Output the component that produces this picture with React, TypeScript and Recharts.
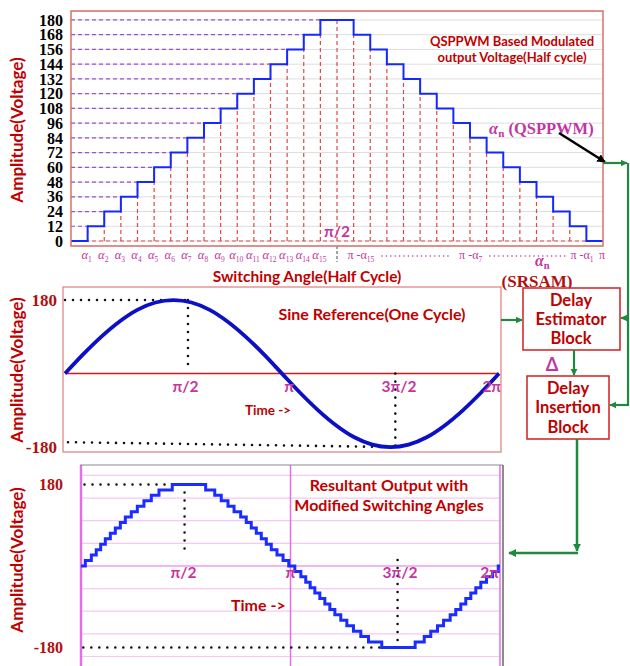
import React from "react";
import { LineChart, Line, XAxis, YAxis, CartesianGrid, ReferenceLine, ReferenceDot } from "recharts";

const SANS = "Lato, 'Open Sans', 'DejaVu Sans', sans-serif";
const SERIF = "'Liberation Serif', 'DejaVu Serif', serif";
const RED = "#c00000";
const DARKRED = "#b01010";
const MAGENTA = "#c4369e";
const GREEN = "#1e8a3f";

// top panel: QSPPWM half cycle, x = switching slot (pi at slot 32)
const slotIndex = [0, 1, 2, 3, 4, 5, 6, 7, 8, 9, 10, 11, 12, 13, 14, 15, 16, 17, 18, 19, 20, 21, 22, 23, 24, 25, 26, 27, 28, 29, 30, 31, 32];
const qsppwmLevels = [0, 12, 24, 36, 48, 60, 72, 84, 96, 108, 120, 132, 144, 156, 168, 180, 180, 168, 156, 144, 132, 120, 108, 96, 84, 72, 60, 48, 36, 24, 12, 0, 0];
const levelTicks = [0, 12, 24, 36, 48, 60, 72, 84, 96, 108, 120, 132, 144, 156, 168, 180];
const slotTickPos = [1, 2, 3, 4, 5, 6, 7, 8, 9, 10, 11, 12, 13, 14, 15, 17.5, 24.1, 30.8, 32];
const slotTickMain = ["α", "α", "α", "α", "α", "α", "α", "α", "α", "α", "α", "α", "α", "α", "α", "π -α", "π -α", "π -α", "π"];
const slotTickSub = ["1", "2", "3", "4", "5", "6", "7", "8", "9", "10", "11", "12", "13", "14", "15", "15", "7", "1", ""];

// middle panel: sine reference, degrees
const sineDeg = [0, 15, 30, 45, 60, 75, 90, 105, 120, 135, 150, 165, 180, 195, 210, 225, 240, 255, 270, 285, 300, 315, 330, 345, 360];
const sineRef = [0, 47, 90, 127, 156, 174, 180, 174, 156, 127, 90, 47, 0, -47, -90, -127, -156, -174, -180, -174, -156, -127, -90, -47, 0];
const piText = ["π/2", "π", "3π/2", "2π"];
const piPosMid = [100, 186, 277, 354];

// bottom panel: resultant staircase with modified switching angles (degrees, positive half)
const riseDeg = [3.7, 8.9, 13.1, 16.9, 20.9, 25.2, 29.5, 33.8, 38.1, 43.2, 48.4, 54.1, 60.4, 67.0, 78.4];
const fallDeg = [107.1, 114.9, 120.5, 126.3, 131.5, 137.2, 142.0, 146.3, 150.6, 154.9, 159.2, 163.5, 168.4, 173.6, 178.5];
const stepUp = [12, 24, 36, 48, 60, 72, 84, 96, 108, 120, 132, 144, 156, 168, 180];
const stepDown = [168, 156, 144, 132, 120, 108, 96, 84, 72, 60, 48, 36, 24, 12, 0];
const piPosOut = [88, 180, 274, 351];
const outGrid = [-200, -150, -100, -50, 50, 100, 150, 200];
const outVert = [0, 180, 360];

const topData = slotIndex.map((s, i) => ({ s, v: qsppwmLevels[i] }));
const sineData = sineDeg.map((d, i) => ({ d, v: sineRef[i] }));

const halfWave = [
  ...riseDeg.map((d, i) => ({ d, v: stepUp[i] })),
  ...fallDeg.map((d, i) => ({ d, v: stepDown[i] })),
];
const outData = [
  { d: 0, v: 0 },
  ...halfWave,
  ...halfWave.map((p) => ({ d: p.d + 180, v: p.v === 0 ? 0 : -p.v })),
  { d: 360, v: 0 },
];

function SlotTick({ x, y, payload }: any) {
  const i = slotTickPos.indexOf(payload.value);
  if (i < 0) return null;
  const isPi = slotTickMain[i].startsWith("π");
  return (
    <text x={x - 1} y={y + 5} textAnchor="middle" fontFamily={SERIF} fontSize={isPi ? 12 : 12.5} fill={MAGENTA}>
      <tspan fontStyle={isPi ? "normal" : "italic"}>{slotTickMain[i]}</tspan>
      {slotTickSub[i] && (
        <tspan fontSize={7.5} dy={3}>
          {slotTickSub[i]}
        </tspan>
      )}
    </text>
  );
}

function piLabel(text: string, dy: number) {
  return (p: any) => {
    const vb = p.viewBox || {};
    const cx = (vb.x ?? 0) + (vb.width ?? 0) / 2;
    const cy = (vb.y ?? 0) + (vb.height ?? 0) / 2;
    return (
      <text x={cx} y={cy + dy} textAnchor="middle" fontFamily={SANS} fontWeight={700} fontSize={15.5} fill={MAGENTA}>
        {text}
      </text>
    );
  };
}

const dotted = { stroke: "#111", strokeWidth: 2.6, strokeDasharray: "0 8", strokeLinecap: "round" as const };

function TopChart() {
  return (
    <LineChart width={630} height={290} data={topData} margin={{ top: 11, right: 27, bottom: 0, left: 0 }}>
      <CartesianGrid vertical={false} stroke="#dedede" />
      <XAxis dataKey="s" type="number" domain={[0, 32]} ticks={slotTickPos} interval={0} height={44} axisLine={false} tickLine={false} tick={<SlotTick />} />
      <YAxis
        type="number"
        domain={[-4.07, 187.3]}
        ticks={levelTicks}
        interval={0}
        width={71}
        allowDataOverflow
        axisLine={false}
        tickLine={false}
        tick={{ fill: "#000", fontFamily: SERIF, fontWeight: 700, fontSize: 16 }}
      />
      <ReferenceLine y={0} stroke="#e04848" strokeDasharray="4 3" strokeWidth={1.2} />
      {levelTicks.slice(1).map((lv, k) => (
        <ReferenceLine key={"h" + lv} segment={[{ x: 0, y: lv }, { x: k + 1, y: lv }]} stroke="#9a52d0" strokeDasharray="4 3" strokeWidth={1.2} />
      ))}
      {slotIndex.slice(1, 31).map((s) => (
        <ReferenceLine key={"v" + s} segment={[{ x: s, y: 0 }, { x: s, y: qsppwmLevels[s] }]} stroke="#e04848" strokeDasharray="4 3" strokeWidth={1.2} />
      ))}
      <ReferenceLine segment={[{ x: 16, y: -4.07 }, { x: 16, y: -17 }]} ifOverflow="visible" stroke="#888" strokeDasharray="3 2" strokeWidth={1.5} />
      <ReferenceDot x={16} y={0} r={0} stroke="none" label={piLabel("π/2", -4)} />
      <Line type="stepAfter" dataKey="v" stroke="#1428ff" strokeWidth={2} dot={false} isAnimationActive={false} />
    </LineChart>
  );
}

function SineChart() {
  return (
    <LineChart width={630} height={177} data={sineData} margin={{ top: 0, right: 131, bottom: 12, left: 0 }}>
      <XAxis dataKey="d" type="number" domain={[0, 360]} hide />
      <YAxis
        type="number"
        domain={[-192, 212]}
        ticks={[-180, 180]}
        interval={0}
        width={65}
        axisLine={false}
        tickLine={false}
        tick={{ fill: DARKRED, fontFamily: SERIF, fontWeight: 700, fontSize: 17 }}
      />
      <ReferenceLine y={0} stroke="#d81818" strokeWidth={1.5} />
      <ReferenceLine segment={[{ x: 0, y: 180 }, { x: 102, y: 180 }]} {...dotted} />
      <ReferenceLine segment={[{ x: 102, y: 180 }, { x: 102, y: 17 }]} {...dotted} />
      <ReferenceLine segment={[{ x: 2.5, y: -168 }, { x: 274, y: -180 }]} {...dotted} />
      <ReferenceLine segment={[{ x: 274, y: 0 }, { x: 274, y: -180 }]} {...dotted} />
      {piPosMid.map((p, i) => (
        <ReferenceDot key={piText[i]} x={p} y={0} r={0} stroke="none" label={piLabel(piText[i], 18)} />
      ))}
      <Line type="monotone" dataKey="v" stroke="#0c10c4" strokeWidth={3.8} dot={false} isAnimationActive={false} />
    </LineChart>
  );
}

function OutputChart() {
  return (
    <LineChart width={630} height={201} data={outData} margin={{ top: 0, right: 130, bottom: 0, left: 0 }}>
      <XAxis dataKey="d" type="number" domain={[0, 360]} hide />
      <YAxis
        type="number"
        domain={[-221, 223]}
        ticks={[-180, 180]}
        interval={0}
        width={81}
        tickMargin={12}
        axisLine={false}
        tickLine={false}
        tick={{ fill: DARKRED, fontFamily: SERIF, fontWeight: 700, fontSize: 16 }}
      />
      {outGrid.map((g) => (
        <ReferenceLine key={g} y={g} stroke="#f6c8f4" strokeWidth={1.2} />
      ))}
      <ReferenceLine y={0} stroke="#f09cf0" strokeWidth={1.4} />
      {outVert.map((v) => (
        <ReferenceLine key={"m" + v} x={v} stroke="#e46ee8" strokeWidth={v === 0 ? 2.5 : 1.5} />
      ))}
      <ReferenceLine segment={[{ x: 3, y: 180 }, { x: 89, y: 180 }]} {...dotted} />
      <ReferenceLine segment={[{ x: 89, y: 180 }, { x: 89, y: 38 }]} {...dotted} />
      <ReferenceLine segment={[{ x: 2, y: -180 }, { x: 266, y: -180 }]} {...dotted} />
      <ReferenceLine segment={[{ x: 272, y: 13 }, { x: 272, y: -180 }]} {...dotted} />
      {piPosOut.map((p, i) => (
        <ReferenceDot key={piText[i]} x={p} y={0} r={0} stroke="none" label={piLabel(piText[i], 12)} />
      ))}
      <Line type="stepAfter" dataKey="v" stroke="#1a2cff" strokeWidth={3} dot={false} isAnimationActive={false} />
    </LineChart>
  );
}

function Overlay() {
  const t = { fontFamily: SANS, fontWeight: 700, fill: RED } as const;
  return (
    <svg width={630} height={666} style={{ position: "absolute", left: 0, top: 0, pointerEvents: "none" }}>
      <defs>
        <marker id="gh" viewBox="0 0 10 10" refX="9" refY="5" markerWidth="3.2" markerHeight="3.2" orient="auto">
          <path d="M0,0 L10,5 L0,10 z" fill={GREEN} />
        </marker>
        <marker id="bh" viewBox="0 0 10 10" refX="9" refY="5" markerWidth="3.4" markerHeight="3.4" orient="auto">
          <path d="M0,0 L10,5 L0,10 z" fill="#000" />
        </marker>
      </defs>

      {/* panel frames */}
      <rect x={71} y={11} width={532} height={235} fill="none" stroke="#d8726c" strokeWidth={1.5} />
      <rect x={63} y={287} width={438} height={165} fill="none" stroke="#e27c7c" strokeWidth={1.2} />
      <line x1={80} y1={465} x2={503} y2={465} stroke="#8c8c8c" strokeWidth={1.2} />
      <line x1={503} y1={465} x2={503} y2={666} stroke="#666" strokeWidth={1.5} />

      {/* top panel texts */}
      <text x={512} y={46} textAnchor="middle" fontSize={13} {...t}>QSPPWM Based Modulated</text>
      <text x={512} y={62} textAnchor="middle" fontSize={13} {...t}>output Voltage(Half cycle)</text>
      <text transform="translate(23,130) rotate(-90)" textAnchor="middle" fontSize={17} {...t}>Amplitude(Voltage)</text>
      <text x={307} y={282} textAnchor="middle" fontSize={15.5} {...t}>Switching Angle(Half Cycle)</text>
      <line x1={382} y1={256} x2={452} y2={256} stroke={MAGENTA} strokeWidth={1.6} strokeDasharray="0 4.4" strokeLinecap="round" />
      <line x1={490} y1={256} x2={566} y2={256} stroke={MAGENTA} strokeWidth={1.6} strokeDasharray="0 4.4" strokeLinecap="round" />
      <text x={489} y={134} fontFamily={SERIF} fontWeight={700} fontSize={16.5} fill={MAGENTA}>
        <tspan fontStyle="italic">α</tspan>
        <tspan fontSize={11} dy={3}>n</tspan>
        <tspan dy={-3}> (QSPPWM)</tspan>
      </text>
      <text x={535} y={266} fontFamily={SERIF} fontWeight={700} fontSize={16} fill={MAGENTA}>
        <tspan fontStyle="italic">α</tspan>
        <tspan fontSize={10.5} dy={3}>n</tspan>
      </text>
      <text x={537} y={287} textAnchor="middle" fontFamily={SERIF} fontWeight={700} fontSize={17} fill={DARKRED}>(SRSAM)</text>

      {/* middle panel texts */}
      <text x={372} y={320} textAnchor="middle" fontSize={16} {...t}>Sine Reference(One Cycle)</text>
      <text x={245} y={415} fontSize={13.5} {...t}>Time -&gt;</text>
      <text transform="translate(23,370) rotate(-90)" textAnchor="middle" fontSize={17} {...t}>Amplitude(Voltage)</text>

      {/* bottom panel texts */}
      <text x={389} y={491} textAnchor="middle" fontSize={16} {...t}>Resultant Output with</text>
      <text x={389} y={511} textAnchor="middle" fontSize={16} {...t}>Modified Switching Angles</text>
      <text x={231} y={611} fontSize={16} {...t}>Time -&gt;</text>
      <text transform="translate(23,560) rotate(-90)" textAnchor="middle" fontSize={17} {...t}>Amplitude(Voltage)</text>

      {/* blocks */}
      <rect x={523} y={288} width={97} height={62} fill="#fff" stroke="#d02020" strokeWidth={1.5} />
      <text x={571} y={306} textAnchor="middle" fontSize={16.5} {...t}>Delay</text>
      <text x={571} y={325} textAnchor="middle" fontSize={16.5} {...t}>Estimator</text>
      <text x={571} y={344} textAnchor="middle" fontSize={16.5} {...t}>Block</text>
      <rect x={527} y={376} width={82} height={63} fill="#fff" stroke="#d02020" strokeWidth={1.5} />
      <text x={568} y={394} textAnchor="middle" fontSize={16.5} {...t}>Delay</text>
      <text x={568} y={413} textAnchor="middle" fontSize={16.5} {...t}>Insertion</text>
      <text x={568} y={433} textAnchor="middle" fontSize={16.5} {...t}>Block</text>
      <text x={552} y={371} textAnchor="middle" fontFamily={SANS} fontWeight={700} fontSize={18} fill={MAGENTA}>Δ</text>

      {/* connectors */}
      <line x1={559} y1={133} x2={605} y2={162} stroke="#000" strokeWidth={2.5} markerEnd="url(#bh)" />
      <line x1={603} y1={163} x2={627} y2={163} stroke={GREEN} strokeWidth={2.2} markerEnd="url(#gh)" />
      <line x1={628} y1={163} x2={628} y2={406} stroke={GREEN} strokeWidth={2.2} />
      <line x1={629} y1={318} x2={621} y2={318} stroke={GREEN} strokeWidth={2.2} markerEnd="url(#gh)" />
      <line x1={629} y1={405} x2={610} y2={405} stroke={GREEN} strokeWidth={2.2} markerEnd="url(#gh)" />
      <line x1={501} y1={320} x2={522} y2={320} stroke={GREEN} strokeWidth={2.2} markerEnd="url(#gh)" />
      <line x1={574} y1={350} x2={574} y2={375} stroke={GREEN} strokeWidth={2.2} markerEnd="url(#gh)" />
      <line x1={577} y1={439} x2={577} y2={551} stroke={GREEN} strokeWidth={2.5} markerEnd="url(#gh)" />
      <line x1={578} y1={553} x2={509} y2={553} stroke={GREEN} strokeWidth={2.5} markerEnd="url(#gh)" />
    </svg>
  );
}

export default function App() {
  return (
    <div style={{ position: "fixed", left: 0, top: 0, width: 630, height: 666, background: "#fff", overflow: "hidden" }}>
      <div style={{ position: "absolute", left: 0, top: 0 }}>
        <TopChart />
      </div>
      <div style={{ position: "absolute", left: 0, top: 287 }}>
        <SineChart />
      </div>
      <div style={{ position: "absolute", left: 0, top: 465 }}>
        <OutputChart />
      </div>
      <Overlay />
    </div>
  );
}
